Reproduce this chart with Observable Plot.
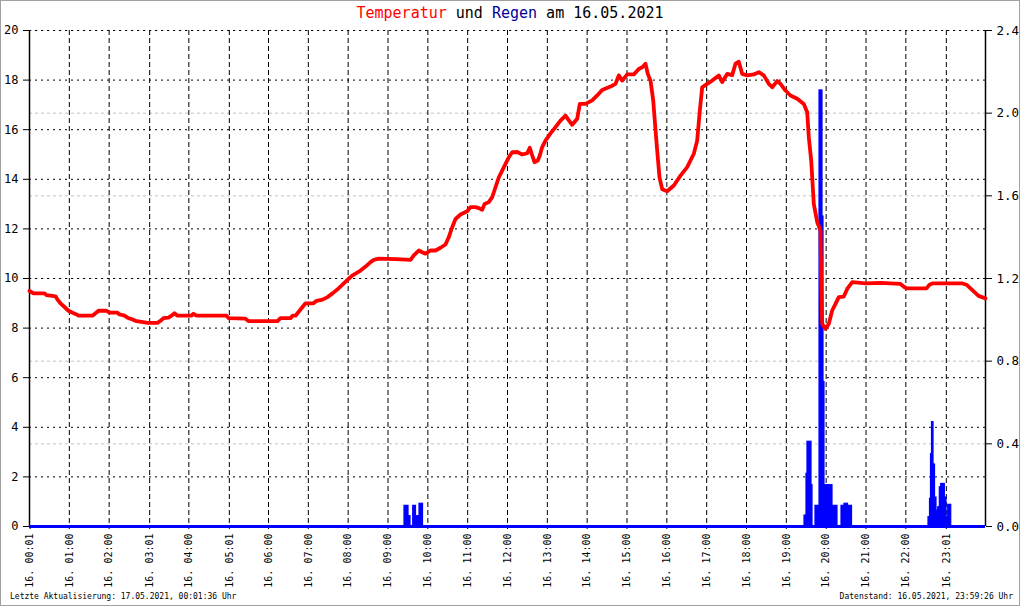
<!DOCTYPE html>
<html>
<head>
<meta charset="utf-8">
<script src="https://cdn.jsdelivr.net/npm/d3@7"></script>
<script src="https://cdn.jsdelivr.net/npm/@observablehq/plot@0.6"></script>
<style>
  html, body { margin: 0; padding: 0; background: #fff; }
  #wrap { position: relative; width: 1020px; height: 606px; overflow: hidden; background: #fff; }
  #border { position: absolute; left: 0; top: 0; width: 1018px; height: 604px; border: 1px solid #a0a0a0; pointer-events: none; }
  #title { position: absolute; left: 0; top: 4px; width: 1020px; text-align: center; font: 15px "DejaVu Sans Mono", monospace; color: #000; white-space: pre; }
  .foot { position: absolute; top: 592px; font: 8px "DejaVu Sans Mono", monospace; color: #000; white-space: pre; }
  #chart { position: absolute; left: 0; top: 0; }
</style>
</head>
<body>
<div id="wrap">
  <div id="chart"></div>
  <div id="title"><span style="color:#ff0000">Temperatur</span> und <span style="color:#000099">Regen</span> am 16.05.2021</div>
  <div class="foot" style="left:10px">Letzte Aktualisierung: 17.05.2021, 00:01:36 Uhr</div>
  <div class="foot" style="right:7px">Datenstand: 16.05.2021, 23:59:26 Uhr</div>
  <div id="border"></div>
</div>
<script>
// ---- data ----
const tempHours = [0,0.05,0.10,0.377,0.427,0.577,0.653,0.703,0.778,0.879,0.979,1.080,1.180,1.230,1.582,1.657,1.732,1.933,2.008,2.209,2.259,2.385,2.460,2.586,2.686,2.812,2.962,3.213,3.288,3.364,3.489,3.565,3.640,3.716,4.067,4.117,4.193,4.946,4.996,5.423,5.498,6.226,6.301,6.552,6.603,6.678,6.753,6.854,6.929,7.130,7.205,7.356,7.481,7.607,7.758,7.858,8.009,8.101,8.310,8.436,8.561,8.644,8.769,9.200,9.565,9.648,9.773,9.859,9.941,10.067,10.193,10.318,10.444,10.527,10.612,10.695,10.820,10.988,11.071,11.197,11.280,11.365,11.423,11.531,11.616,11.699,11.782,11.867,11.950,12.033,12.118,12.244,12.369,12.495,12.560,12.620,12.678,12.761,12.811,12.871,12.954,13.080,13.205,13.330,13.456,13.531,13.624,13.750,13.815,13.958,14.126,14.252,14.377,14.586,14.711,14.794,14.880,15.005,15.171,15.296,15.382,15.464,15.522,15.590,15.658,15.715,15.758,15.816,15.884,16.009,16.175,16.343,16.511,16.677,16.762,16.828,16.888,17.013,17.139,17.305,17.390,17.515,17.641,17.724,17.807,17.892,18.017,18.183,18.309,18.434,18.560,18.645,18.770,18.853,18.979,19.104,19.273,19.438,19.524,19.564,19.624,19.690,19.775,19.858,19.875,19.900,19.983,20.066,20.151,20.234,20.317,20.443,20.528,20.654,20.988,21.364,21.866,21.967,22.017,22.519,22.594,22.669,23.422,23.523,23.623,23.724,23.824,24.0];
const tempValues = [9.5,9.45,9.4,9.4,9.33,9.3,9.28,9.15,9.0,8.85,8.7,8.62,8.55,8.5,8.5,8.6,8.7,8.7,8.62,8.62,8.55,8.5,8.42,8.35,8.28,8.25,8.21,8.21,8.3,8.4,8.42,8.5,8.6,8.5,8.5,8.58,8.5,8.5,8.4,8.38,8.28,8.28,8.4,8.4,8.5,8.5,8.65,8.85,9.0,9.0,9.1,9.15,9.25,9.4,9.6,9.75,9.98,10.12,10.32,10.48,10.66,10.75,10.8,10.78,10.75,10.93,11.13,11.06,11.0,11.13,11.13,11.24,11.37,11.67,12.07,12.4,12.58,12.71,12.88,12.88,12.84,12.77,13.0,13.08,13.28,13.68,14.08,14.35,14.62,14.89,15.09,15.1,15.0,15.05,15.27,14.96,14.69,14.76,14.96,15.3,15.56,15.85,16.1,16.37,16.57,16.4,16.2,16.44,17.04,17.04,17.18,17.38,17.6,17.74,17.85,18.19,17.98,18.23,18.23,18.45,18.52,18.66,18.25,17.98,17.18,16.0,15.16,14.08,13.6,13.52,13.75,14.15,14.49,15.03,15.56,16.77,17.71,17.85,17.98,18.19,17.92,18.25,18.2,18.66,18.74,18.25,18.19,18.23,18.32,18.19,17.85,17.71,17.96,17.85,17.58,17.38,17.25,17.04,16.7,15.7,14.76,13.0,12.27,11.94,9.92,8.17,7.97,8.17,8.71,8.98,9.25,9.27,9.58,9.85,9.8,9.82,9.78,9.65,9.6,9.6,9.75,9.8,9.8,9.75,9.6,9.45,9.3,9.2];

// rain intervals (start hour, end hour, mm)
const rainStart = [9.414,9.515,9.633,9.728,9.791, 19.456,19.506,19.531,19.632,19.732,19.833,19.908,19.933,19.958,20.159,20.385,20.460,20.548, 22.569,22.607,22.632,22.657,22.695,22.733,22.770,22.813,22.853,22.888,22.979,23.021,23.064];
const rainEnd   = [9.515,9.565,9.703,9.778,9.879, 19.506,19.531,19.632,19.657,19.833,19.908,19.933,19.958,20.159,20.284,20.460,20.548,20.649, 22.607,22.632,22.657,22.695,22.733,22.770,22.813,22.853,22.888,22.979,23.021,23.064,23.140];
const rainValues = [0.10,0.05,0.10,0.05,0.11, 0.053,0.255,0.41,0.20,0.10,2.11,1.50,0.70,0.20,0.10,0.10,0.11,0.10, 0.045,0.134,0.35,0.505,0.30,0.14,0.077,0.093,0.19,0.206,0.14,0.045,0.105];

const tickHours = [1/60,1,2,3+1/60,4,5+1/60,6,7,8,9,10,11,12,13,14,15,16,17,18,19,20,21,22,23+1/60];
const tickLabels = ["00:01","01:00","02:00","03:01","04:00","05:01","06:00","07:00","08:00","09:00","10:00","11:00","12:00","13:00","14:00","15:00","16:00","17:00","18:00","19:00","20:00","21:00","22:00","23:01"];
const tempTicks = [0,2,4,6,8,10,12,14,16,18,20];
const rainTicks = [0,0.4,0.8,1.2,1.6,2.0,2.4];

// ---- build ----
const k = 20 / 2.4;
const temp = tempHours.map((h, i) => ({h, v: tempValues[i]}));
const rain = rainStart.map((s, i) => ({s, e: rainEnd[i], v: rainValues[i] * k}));
const labelOf = new Map(tickHours.map((h, i) => [h, "16. " + tickLabels[i]]));

const chart = Plot.plot({
  width: 1020,
  height: 606,
  marginLeft: 29,
  marginRight: 35,
  marginTop: 30,
  marginBottom: 80,
  style: {fontFamily: "'DejaVu Sans Mono', monospace", background: "transparent", color: "#000"},
  x: {domain: [0, 24]},
  y: {domain: [0, 20]},
  marks: [
    Plot.ruleY(rainTicks.slice(1).map(r => r * k), {stroke: "#c0c0c0", strokeDasharray: "3,3", strokeWidth: 1}),
    Plot.ruleY(tempTicks.slice(1), {stroke: "#000", strokeDasharray: "2,4", strokeWidth: 1}),
    Plot.ruleX(tickHours.slice(1), {stroke: "#000", strokeDasharray: "5,3", strokeWidth: 1}),
    Plot.ruleX([0, 24], {stroke: "#000", strokeWidth: 1.5}),
    Plot.axisY(tempTicks, {anchor: "left", tickSize: 6, tickPadding: 5, fontSize: 12, label: null}),
    Plot.axisY(rainTicks.map(r => r * k), {anchor: "right", tickSize: 6, tickPadding: 5, fontSize: 12.5, label: null, tickFormat: d => (d / k).toFixed(1)}),
    Plot.axisX(tickHours, {anchor: "bottom", tickSize: 3, tickPadding: 4, tickRotate: -90, fontSize: 10, label: null, tickFormat: d => labelOf.get(d)}),
    Plot.rectY(rain, {x1: "s", x2: "e", y: "v", fill: "#0000ff", stroke: "#0000ff", strokeWidth: 1.2, insetLeft: 0, insetRight: 0}),
    Plot.ruleY([0], {stroke: "#0000ff", strokeWidth: 3}),
    Plot.line(temp, {x: "h", y: "v", stroke: "#ff0000", strokeWidth: 3.8, curve: "linear"})
  ]
});
document.getElementById("chart").appendChild(chart);
</script>
</body>
</html>
